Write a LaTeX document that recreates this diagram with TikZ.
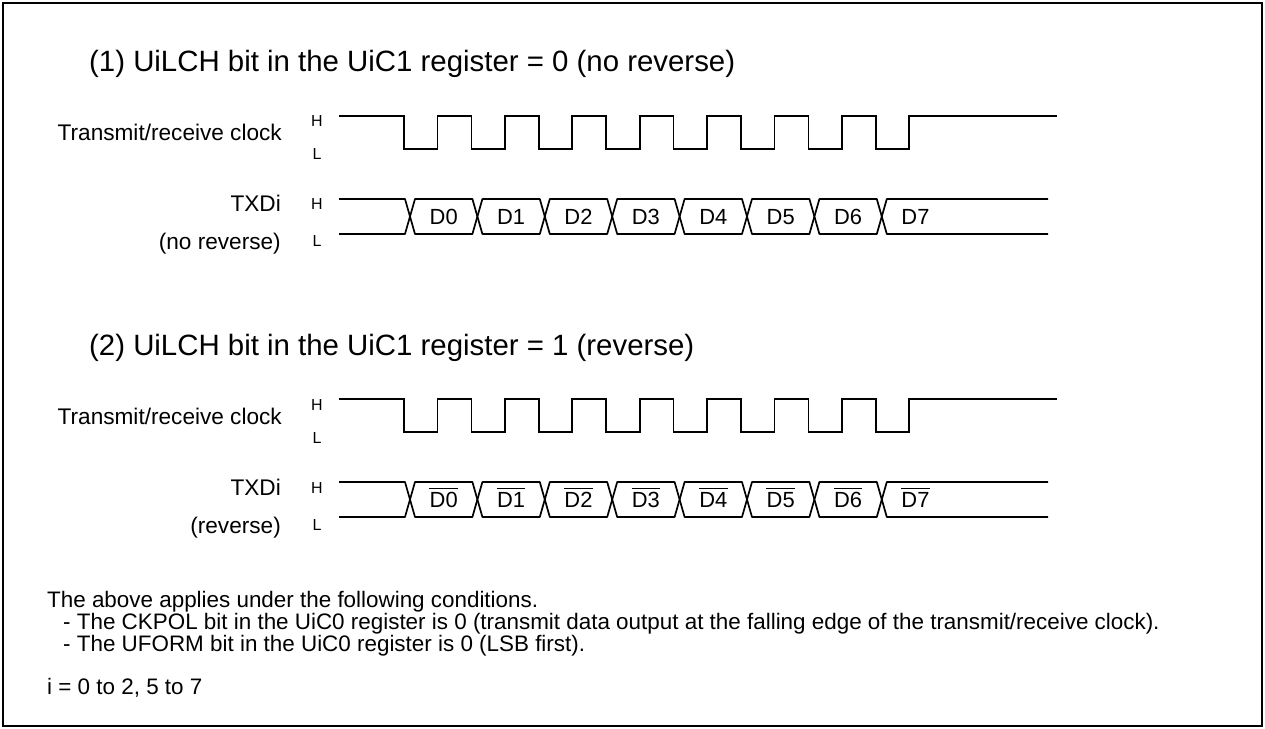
\documentclass[tikz,border=0pt]{standalone}
\usepackage{fontspec}
\setmainfont{Liberation Sans}
\begin{document}
\begin{tikzpicture}[x=1bp,y=-1bp,
  wave/.style={line width=1.7bp, line join=miter},
  cell/.style={line width=1.7bp, line join=round},
  ovline/.style={line width=1.1bp},
  ttl/.style={font=\fontsize{29.5}{34}\selectfont, inner sep=0, anchor=base west},
  lbl/.style={font=\fontsize{22.7}{26}\selectfont, inner sep=0, anchor=base east},
  hl/.style={font=\fontsize{16}{19}\selectfont, inner sep=0, anchor=base},
  dat/.style={font=\fontsize{22}{26}\selectfont, inner sep=0, anchor=base},
  note/.style={font=\fontsize{22.5}{26}\selectfont, inner sep=0, anchor=base west}]
\useasboundingbox (0,0) rectangle (1265,729);
\draw[line width=2.5bp] (3,3) rectangle (1262,726);
\foreach \s/\dy/\ttltext/\sub in {1/0/{(1) UiLCH bit in the UiC1 register = 0 (no reverse)}/{(no reverse)},2/283/{(2) UiLCH bit in the UiC1 register = 1 (reverse)}/{(reverse)}}{
  \node[ttl] (title\s) at (89,{72+\dy}) {\ttltext};
  \node[lbl] (clk\s) at (282,{141+\dy}) {Transmit/receive clock};
  \node[lbl] (txd\s) at (281,{212+\dy}) {TXDi};
  \node[lbl] (sub\s) at (281,{250+\dy}) {\sub};
  \node[hl] (ch\s) at (317,{127+\dy}) {H};
  \node[hl] (cl\s) at (317,{160+\dy}) {L};
  \node[hl] (th\s) at (317,{210+\dy}) {H};
  \node[hl] (tl\s) at (317,{247+\dy}) {L};
  % clock
  \draw[wave] (339,{116+\dy})
    \foreach \k in {0,...,7}{
      -- ({404+67.4*\k},{116+\dy}) -- ({404+67.4*\k},{149+\dy})
      -- ({437.5+67.4*\k},{149+\dy}) -- ({437.5+67.4*\k},{116+\dy})}
    -- (1057,{116+\dy});
  % data line
  \draw[cell] (339,{199+\dy}) -- (405,{199+\dy}) -- (410,{216.5+\dy}) -- (405,{234+\dy}) -- (339,{234+\dy});
  \foreach \k in {0,...,6}{
    \draw[cell] ({410+67.4*\k},{216.5+\dy}) -- ({415+67.4*\k},{199+\dy})
      -- ({472.4+67.4*\k},{199+\dy}) -- ({477.4+67.4*\k},{216.5+\dy})
      -- ({472.4+67.4*\k},{234+\dy}) -- ({415+67.4*\k},{234+\dy}) -- cycle;
  }
  \draw[cell] (1048,{199+\dy}) -- (886.8,{199+\dy}) -- (881.8,{216.5+\dy}) -- (886.8,{234+\dy}) -- (1048,{234+\dy});
}
\foreach \k in {0,...,7}{
  \node[dat] (d\k) at ({443.7+67.4*\k},224.5) {D\k};
  \node[dat] (r\k) at ({443.7+67.4*\k},507.5) {D\k};
  \draw[ovline] ([yshift=3.5bp]r\k.north west) -- ([yshift=3.5bp]r\k.north east);
}
\node[note] (n1) at (47,607) {The above applies under the following conditions.};
\node[note] (n2) at (63,629) {- The CKPOL bit in the UiC0 register is 0 (transmit data output at the falling edge of the transmit/receive clock).};
\node[note] (n3) at (63,651) {- The UFORM bit in the UiC0 register is 0 (LSB first).};
\node[note] (n4) at (47,694) {i = 0 to 2, 5 to 7};
\end{tikzpicture}
\end{document}
